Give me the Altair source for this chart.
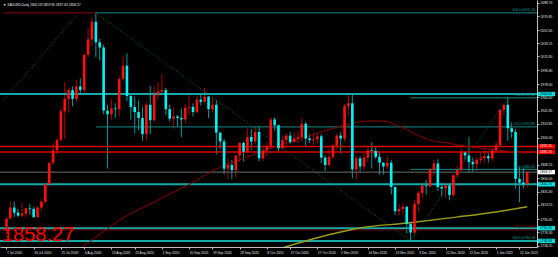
import json
import altair as alt
import pandas as pd

# ---------------- candle data (daily XAU, 7 Jul 2020 .. 13 Jan 2021) ----------------
opens = [1784, 1795, 1810, 1803, 1799, 1802, 1809, 1808, 1797, 1810,
         1818, 1842, 1871, 1888, 1902, 1941, 1958, 1970, 1958, 1975,
         1970, 2018, 2039, 2063, 2035, 2028, 1942, 1937, 1945, 1944,
         1985, 2003, 1962, 1947, 1940, 1932, 1910, 1950, 1929, 1964,
         1968, 1970, 1944, 1931, 1934, 1932, 1930, 1946, 1947, 1940,
         1957, 1954, 1961, 1944, 1950, 1912, 1900, 1863, 1868, 1861,
         1881, 1898, 1886, 1906, 1900, 1913, 1877, 1888, 1894, 1930,
         1922, 1891, 1902, 1908, 1899, 1904, 1906, 1924, 1904, 1902,
         1903, 1907, 1878, 1868, 1879, 1894, 1908, 1904, 1948, 1952,
         1862, 1877, 1866, 1878, 1888, 1887, 1879, 1871, 1866, 1871,
         1838, 1805, 1808, 1811, 1788, 1776, 1815, 1830, 1840, 1839,
         1862, 1870, 1838, 1836, 1840, 1827, 1854, 1861, 1885, 1881,
         1872, 1869, 1875, 1877, 1880, 1877, 1888, 1895, 1943, 1950,
         1918, 1913, 1849, 1844, 1841.58]
highs = [1796, 1818, 1818, 1808, 1817, 1810, 1815, 1811, 1812, 1822,
         1844, 1871, 1898, 1904, 1945, 1981, 1973, 1975, 1984, 1986,
         2019, 2055, 2070, 2075.14, 2040, 2032, 1950, 1958, 1952, 1989,
         2015, 2020, 1966, 1961, 1956, 1947, 1954, 1976, 1975, 1981,
         1992, 1973, 1950, 1946, 1936, 1945, 1951, 1965, 1952, 1966,
         1966, 1973, 1962, 1960, 1956, 1913, 1904, 1877, 1875, 1882,
         1899, 1900, 1917, 1917, 1920, 1921, 1894, 1898, 1933, 1933,
         1923, 1908, 1911, 1913, 1912, 1915, 1932, 1927, 1910, 1911,
         1912, 1910, 1881, 1890, 1897, 1911, 1913, 1951, 1965, 1966,
         1881, 1880, 1884, 1892, 1899, 1894, 1885, 1872, 1880, 1875,
         1839, 1815, 1816, 1812, 1790, 1820, 1832, 1842, 1848, 1864,
         1875, 1876, 1844, 1843, 1843, 1855, 1867, 1891, 1887, 1906,
         1878, 1879, 1884, 1889, 1884, 1889, 1900, 1944, 1952, 1959.42,
         1926, 1917, 1865, 1864, 1859.90]
lows = [1774, 1794, 1797, 1797, 1797, 1797, 1801, 1796, 1796, 1806,
        1816, 1840, 1868, 1882, 1900, 1903, 1939, 1948, 1954, 1963,
        1967, 2015, 2030, 2015, 2010, 1937, 1863, 1930, 1932, 1934,
        1982, 1955, 1930, 1911, 1915, 1901, 1900, 1910, 1926, 1957,
        1963, 1936, 1927, 1917, 1920, 1906, 1925, 1936, 1934, 1938,
        1949, 1952, 1932, 1940, 1882, 1890, 1855, 1848, 1849, 1851,
        1872, 1873, 1884, 1889, 1896, 1873, 1873, 1880, 1890, 1915,
        1887, 1890, 1894, 1897, 1899, 1898, 1900, 1894, 1898, 1895,
        1897, 1871, 1860, 1866, 1876, 1889, 1883, 1899, 1935, 1850,
        1848, 1859, 1861, 1872, 1863, 1876, 1855, 1855, 1862, 1828,
        1800, 1799, 1800, 1775, 1764.58, 1774, 1806, 1824, 1828, 1837,
        1853, 1833, 1825, 1823, 1820, 1825, 1850, 1860, 1875, 1858,
        1859, 1860, 1870, 1871, 1871, 1873, 1887, 1894, 1935, 1901,
        1905, 1836, 1817, 1836, 1837.43]
closes = [1795, 1810, 1803, 1799, 1802, 1809, 1808, 1797, 1810, 1818,
          1842, 1871, 1888, 1902, 1941, 1958, 1970, 1958, 1975, 1970,
          2018, 2039, 2063, 2035, 2028, 1942, 1937, 1945, 1944, 1985,
          2003, 1962, 1947, 1940, 1932, 1910, 1950, 1929, 1964, 1968,
          1970, 1944, 1931, 1934, 1932, 1930, 1946, 1947, 1940, 1957,
          1954, 1961, 1944, 1950, 1912, 1900, 1863, 1868, 1861, 1881,
          1898, 1886, 1906, 1900, 1913, 1877, 1888, 1894, 1930, 1922,
          1891, 1902, 1908, 1899, 1904, 1906, 1924, 1904, 1902, 1903,
          1907, 1878, 1868, 1879, 1894, 1908, 1904, 1948, 1952, 1862,
          1877, 1866, 1878, 1888, 1887, 1879, 1871, 1866, 1871, 1838,
          1805, 1808, 1811, 1788, 1776, 1815, 1830, 1840, 1839, 1862,
          1870, 1838, 1836, 1840, 1827, 1854, 1861, 1885, 1881, 1872,
          1869, 1875, 1877, 1880, 1877, 1888, 1895, 1943, 1950, 1918,
          1913, 1849, 1844, 1841.58, 1858.27]

# x-axis date labels and the bars they sit on
date_labels = ["7 Jul 2020", "16 Jul 2020", "25 Jul 2020", "4 Aug 2020", "13 Aug 2020",
               "22 Aug 2020", "1 Sep 2020", "10 Sep 2020", "19 Sep 2020", "29 Sep 2020",
               "8 Oct 2020", "17 Oct 2020", "27 Oct 2020", "5 Nov 2020", "14 Nov 2020",
               "24 Nov 2020", "3 Dec 2020", "12 Dec 2020", "22 Dec 2020", "1 Jan 2021",
               "12 Jan 2021"]
date_label_bars = [0, 7, 14, 20, 27, 33, 40, 47, 53, 60, 67, 73, 80, 86, 93, 100,
                   106, 113, 119, 126, 132]

# right price axis tick labels
price_ticks = [2088.70, 2070.85, 2051.65, 2033.75, 2015.90, 1996.80, 1978.00, 1960.00,
               1941.85, 1923.85, 1905.00, 1886.95, 1868.15, 1850.00, 1831.30, 1813.55,
               1794.45, 1776.30, 1758.15]

# moving averages
red_ma_bar = [14.8, 19.1, 24.9, 29.2, 32.4, 37.5, 42.6, 47.6, 53.4, 62.0, 70.3, 78.7,
              85.5, 93.1, 96.8, 100.6, 105.7, 109.5, 113.3, 117.6, 123.4, 128.4, 134.0]
red_ma_val = [1741, 1755, 1777, 1793, 1803, 1816, 1830, 1843, 1861, 1879, 1895, 1909,
              1920, 1928, 1928, 1922, 1909, 1901, 1898, 1894, 1890, 1887, 1884]
olive_ma_bar = [66.5, 75.4, 82.9, 90.5, 103.2, 115.8, 125.9, 134.0]
olive_ma_val = [1748, 1762, 1773, 1782, 1789, 1797, 1804, 1811]

# dotted fibonacci trend lines
trend_bar0 = [-1.0, 23, 104]
trend_val0 = [1955.0, 2075.14, 1764.58]
trend_bar1 = [18.6, 104, 129]
trend_val1 = [2075.14, 1764.58, 1959.42]

# full width horizontal lines
hline_price = [1964.60, 1893.25, 1885.70, 1858.27, 1841.70, 1782.00, 1779.50, 1764.58]
hline_color = ["#17a8a8", "#d80000", "#d80000", "#6e6e6e", "#17a8a8", "#17a8a8", "#7a0000", "#17a8a8"]
hline_width = [2, 1.5, 1.5, 1, 2, 2, 1, 2]

# partial level lines (fibonacci levels)
level_price = [2075.14, 2075.14, 1919.86, 1959.42, 1862.00]
level_from = [-1.0, 23, 23, 104, 104]
level_to = [23, 140, 140, 140, 140]
level_color = ["#8a0000", "#138a8a", "#138a8a", "#138a8a", "#138a8a"]

fib_text = ["100.0  x2075.14", "0.0  x1959.42", "50.0  x1919.86", "50.0  x1862.00",
            "38.2  x1779.45", "100.0  x1764.58"]
fib_price = [2075.14, 1959.42, 1919.86, 1862.00, 1779.50, 1764.58]
fib_color = ["#1aa0a0", "#1aa0a0", "#1aa0a0", "#1aa0a0", "#b00000", "#1aa0a0"]

badge_price = [1964.60, 1893.25, 1885.70, 1858.27, 1841.70, 1782.00, 1764.58]
badge_fill = ["#00e0e0", "#ff0000", "#ff0000", "#ffffff", "#00e0e0", "#00e0e0", "#00e0e0"]
badge_ink = ["#000000", "#ffe0e0", "#ffe0e0", "#000000", "#000000", "#000000", "#000000"]

title_text = "\u25bc XAUUSD,Daily  1841.58 1859.90 1837.43 1858.27"
last_price = "1858.27"

# ---------------- chart ----------------
W, H = 537, 247
FONT = "Liberation Sans"
SMALL = 3.3

candles = pd.DataFrame({"bar": list(range(len(opens))), "open": opens, "high": highs,
                        "low": lows, "close": closes})

XS = alt.Scale(domain=[-0.38, 135.23], nice=False, zero=False)
YS = alt.Scale(domain=[1756.32, 2092.64], nice=False, zero=False)

label_map = {str(b): t for b, t in zip(date_label_bars, date_labels)}
x_axis = alt.Axis(values=date_label_bars, labelExpr=json.dumps(label_map) + "[datum.value]",
                  title=None, grid=False, orient="bottom", labelAlign="left",
                  labelBaseline="top", labelFontSize=SMALL, labelFont=FONT, labelColor="#e6e6e6",
                  labelPadding=1, tickSize=2, tickColor="#bfbfbf", domainColor="#bfbfbf",
                  labelOverlap=False, labelFlush=False)
y_axis = alt.Axis(values=price_ticks, format=".2f", title=None, grid=False, orient="right",
                  labelAlign="left", labelBaseline="middle", labelFontSize=SMALL, labelFont=FONT,
                  labelColor="#e6e6e6", labelPadding=1, tickSize=2, tickColor="#bfbfbf",
                  domainColor="#bfbfbf", labelOverlap=False, labelFlush=False)


def xq(field):
    return alt.X(field, type="quantitative", scale=XS, axis=x_axis)


def yq(field):
    return alt.Y(field, type="quantitative", scale=YS, axis=y_axis)


up = "datum.close >= datum.open"

wicks = alt.Chart(candles).mark_rule(strokeWidth=1, clip=True).encode(
    x=xq("bar"), y=yq("low"), y2="high:Q",
    color=alt.condition(up, alt.value("#b00000"), alt.value("#0a9a9a")),
)
bodies = alt.Chart(candles).mark_bar(size=2.6, clip=True).encode(
    x=xq("bar"), y=yq("open"), y2="close:Q",
    color=alt.condition(up, alt.value("#ff1010"), alt.value("#00f4f4")),
)

hl_df = pd.DataFrame({"p": hline_price, "c": hline_color, "w": hline_width})
hlines = alt.Chart(hl_df).mark_rule().encode(
    x=alt.value(0), x2=alt.value(W),
    y=yq("p"),
    color=alt.Color("c:N", scale=None),
    strokeWidth=alt.StrokeWidth("w:Q", scale=None),
)

lv_df = pd.DataFrame({"p": level_price, "a": level_from, "b": level_to, "c": level_color})
levels = alt.Chart(lv_df).mark_rule(strokeWidth=1, clip=True).encode(
    x=xq("a"), x2="b:Q", y=yq("p"),
    color=alt.Color("c:N", scale=None),
)

tr_df = pd.DataFrame({"a": trend_bar0, "pa": trend_val0, "b": trend_bar1, "pb": trend_val1})
trends = alt.Chart(tr_df).mark_rule(strokeWidth=1, strokeDash=[1, 2], color="#0d7a45",
                                     clip=True).encode(
    x=xq("a"), x2="b:Q", y=yq("pa"), y2="pb:Q",
)

red_df = pd.DataFrame({"bar": red_ma_bar, "v": red_ma_val})
red_ma = alt.Chart(red_df).mark_line(color="#8b0000", strokeWidth=1, clip=True,
                                     interpolate="monotone").encode(x=xq("bar"), y=yq("v"))
olive_df = pd.DataFrame({"bar": olive_ma_bar, "v": olive_ma_val})
olive_ma = alt.Chart(olive_df).mark_line(color="#9c9a1a", strokeWidth=1.5, clip=True,
                                         interpolate="monotone").encode(x=xq("bar"), y=yq("v"))

fib_df = pd.DataFrame({"t": fib_text, "p": fib_price, "c": fib_color})
fib_labels = alt.Chart(fib_df).mark_text(align="right", baseline="alphabetic", dy=-1.5,
                                         fontSize=SMALL, font=FONT).encode(
    x=alt.value(535), y=yq("p"), text="t:N",
    color=alt.Color("c:N", scale=None),
)

bd_df = pd.DataFrame({"p": badge_price, "f": badge_fill, "k": badge_ink})
badges = alt.Chart(bd_df).transform_calculate(
    lo="datum.p - 3.0", hi="datum.p + 3.0"
).mark_rect().encode(
    x=alt.value(538), x2=alt.value(555),
    y=yq("lo"), y2="hi:Q",
    color=alt.Color("f:N", scale=None),
)
badge_text = alt.Chart(bd_df).mark_text(align="left", baseline="middle", fontSize=SMALL,
                                        font=FONT).encode(
    x=alt.value(540), y=yq("p"),
    text=alt.Text("p:Q", format=".2f"),
    color=alt.Color("k:N", scale=None),
)

title_df = pd.DataFrame({"t": [title_text]})
title = alt.Chart(title_df).mark_text(align="left", baseline="middle", fontSize=SMALL,
                                      font=FONT, color="#f0f0f0").encode(
    x=alt.value(3), y=alt.value(5), text="t:N")

big_df = pd.DataFrame({"t": [last_price]})
big = alt.Chart(big_df).mark_text(align="left", baseline="alphabetic", fontSize=20,
                                  font=FONT, color="#ff0000").encode(
    x=alt.value(2), y=alt.value(241), text="t:N")

chart = alt.layer(
    wicks, trends, hlines, levels, olive_ma, red_ma, bodies, fib_labels, badges,
    badge_text, title, big
).properties(
    width=W, height=H,
    autosize=alt.AutoSizeParams(type="none"),
    padding={"left": 0, "top": 0, "right": 21, "bottom": 10},
    background="#000000",
).configure_view(stroke=None)

chart.save("out.html", embed_options={"renderer": "svg", "actions": False})
